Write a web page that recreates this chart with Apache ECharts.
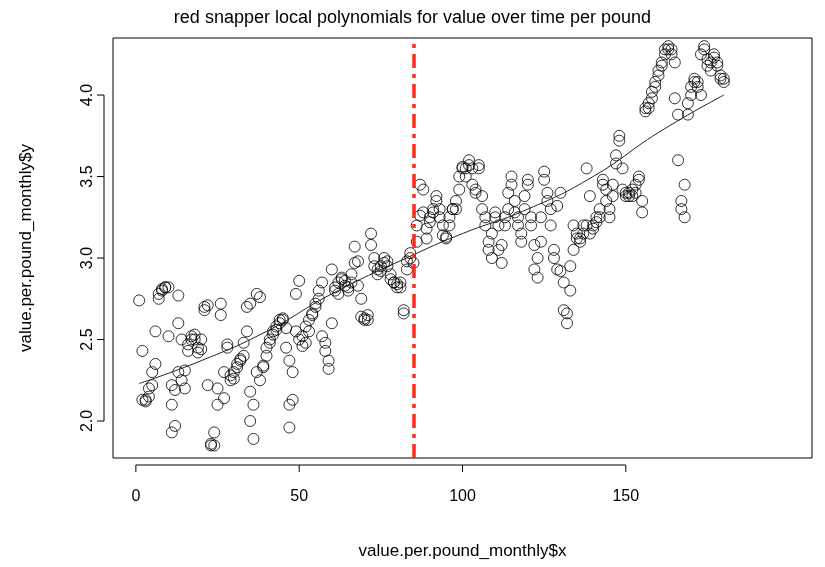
<!DOCTYPE html>
<html>
<head>
<meta charset="utf-8">
<script src="https://cdn.jsdelivr.net/npm/echarts@6/dist/echarts.min.js"></script>
<style>html,body{margin:0;padding:0;background:#fff}#chart{width:825px;height:567px}</style>
</head>
<body>
<div id="chart"></div>
<script>
// monthly value per pound (x = month index)
const pointX = [1,2,2,3,3,4,4,5,5,6,6,7,7,8,8,9,9,10,10,11,11,
  11,12,12,13,13,13,14,14,15,15,16,16,17,17,18,18,19,19,20,20,
  21,21,22,22,23,23,24,24,25,25,26,26,27,27,28,28,29,29,30,30,31,31,32,32,33,33,34,34,35,
  35,35,36,36,37,37,38,38,39,39,40,40,41,41,42,42,43,43,44,44,45,45,
  46,46,47,47,47,48,48,49,49,50,50,51,51,52,52,53,53,54,54,55,55,56,56,
  57,57,58,58,59,59,60,60,61,61,62,62,63,63,64,64,65,65,
  66,66,67,67,68,68,69,69,70,70,71,71,72,72,73,73,74,74,75,75,
  76,76,77,77,78,78,79,79,80,80,81,81,82,82,83,83,84,84,85,
  86,86,87,87,88,88,89,89,90,90,91,91,92,92,93,93,94,94,95,95,
  96,96,97,97,98,98,99,99,100,100,101,101,102,102,103,103,104,104,105,105,
  106,106,107,107,108,108,109,109,110,110,111,111,112,112,113,113,114,114,115,115,
  116,116,117,117,118,118,119,119,120,120,121,121,122,122,123,123,124,124,125,125,
  126,126,127,127,128,128,129,129,130,130,131,131,132,132,133,133,134,134,135,135,
  136,136,137,137,138,138,139,139,140,140,141,141,142,142,143,143,144,144,145,145,
  146,146,147,147,148,148,149,149,150,150,151,151,152,152,153,153,154,154,155,155,
  156,156,157,157,158,158,159,159,160,160,161,161,162,162,163,163,164,164,165,165,
  166,166,167,167,168,168,169,169,170,170,171,171,172,172,173,173,174,174,175,175,
  176,176,177,177,178,178,179,179,180,180];
const pointY = [2.74,2.43,2.13,2.12,2.13,2.15,2.2,2.22,2.3,2.35,2.55,2.75,2.78,2.8,2.81,2.82,2.82,2.82,2.52,2.22,2.1,
  1.93,1.97,2.19,2.3,2.6,2.77,2.5,2.25,2.2,2.31,2.43,2.47,2.5,2.52,2.53,2.5,2.45,2.42,2.5,2.44,
  2.7,2.68,2.71,2.22,1.86,1.85,1.85,1.93,2.1,2.2,2.65,2.72,2.3,2.14,2.47,2.45,2.28,2.25,2.26,2.3,2.33,2.35,2.37,2.38,2.4,2.48,2.55,2.7,2.72,
  2.18,2.0,1.89,2.1,2.3,2.78,2.76,2.25,2.33,2.34,2.4,2.45,2.48,2.5,2.53,2.55,2.56,2.58,2.6,2.62,2.63,2.62,
  2.57,2.45,2.37,2.1,1.96,2.13,2.3,2.55,2.78,2.86,2.5,2.46,2.52,2.58,2.48,2.55,2.62,2.65,2.66,2.7,2.72,2.75,2.8,
  2.85,2.52,2.48,2.43,2.37,2.32,2.6,2.93,2.82,2.8,2.78,2.85,2.87,2.88,2.86,2.83,2.82,2.8,
  2.85,2.9,2.97,3.07,2.98,2.83,2.75,2.64,2.62,2.63,2.62,2.65,3.15,3.08,3.0,2.95,2.93,2.9,2.92,2.95,
  2.97,3.0,2.98,2.95,2.9,2.87,2.85,2.85,2.84,2.82,2.82,2.85,2.68,2.66,2.93,2.98,3.03,3.0,2.97,
  3.2,3.1,3.26,3.45,3.42,3.28,3.12,3.18,3.22,3.25,3.28,3.3,3.35,3.38,3.3,3.25,3.2,3.14,3.12,3.13,
  3.2,3.25,3.3,3.3,3.35,3.3,3.42,3.5,3.55,3.56,3.55,3.5,3.6,3.57,3.55,3.45,3.4,3.42,3.55,3.57,
  3.38,3.3,3.25,3.2,3.1,3.05,3.0,3.15,3.25,3.28,3.2,3.05,2.97,3.08,3.2,3.25,3.3,3.4,3.45,3.5,
  3.35,3.28,3.25,3.2,3.1,3.15,3.3,3.38,3.45,3.48,3.25,3.2,3.08,2.93,2.88,3.0,3.1,3.25,3.48,3.53,
  3.4,3.35,3.3,3.2,3.05,3.0,2.93,3.32,3.4,2.92,2.85,2.68,2.6,2.66,2.8,2.95,3.05,3.2,3.15,3.12,
  3.1,3.12,3.15,3.2,3.2,3.55,3.38,3.15,3.18,3.2,3.22,3.25,3.25,3.3,3.45,3.48,3.42,3.35,3.3,3.25,
  3.38,3.45,3.58,3.63,3.72,3.75,3.55,3.42,3.4,3.38,3.38,3.4,3.42,3.38,3.4,3.45,3.48,3.5,3.35,3.28,
  3.9,3.92,3.95,3.92,3.98,4.02,4.05,4.08,4.12,4.15,4.18,4.2,4.25,4.28,4.3,4.28,4.25,4.28,4.2,3.98,
  3.88,3.6,3.35,3.3,3.25,3.45,3.88,3.95,4.0,4.05,4.1,4.08,4.08,4.05,4.0,4.25,4.3,4.28,4.22,4.18,
  4.15,4.2,4.25,4.23,4.18,4.2,4.12,4.1,4.1,4.08];
// local polynomial fit
const fitX = [1,20,40,60,85,100,120,140,160,180];
const fitY = [2.23,2.37,2.55,2.78,3.02,3.15,3.3,3.5,3.77,4.0];
const xTicks = [0,50,100,150];
const yTicks = [2.0,2.5,3.0,3.5,4.0];
const breakX = 85;

const chart = echarts.init(document.getElementById('chart'));
const font = 'Liberation Sans, Arial, sans-serif';
chart.setOption({
  animation: false,
  title: {text: 'red snapper local polynomials for value over time per pound', left: 'center', top: 4,
    textStyle: {fontFamily: font, fontSize: 18, fontWeight: 'normal', color: '#000'}},
  grid: {left: 113, right: 13, top: 38, bottom: 109, show: true, borderColor: '#000', borderWidth: 1},
  xAxis: {type: 'value', min: -7, max: 207, splitLine: {show: false},
    axisLine: {show: false}, axisTick: {show: false},
    axisLabel: {fontFamily: font, fontSize: 16, color: '#000', margin: 31, customValues: xTicks, formatter: v => String(v)},
    name: 'value.per.pound_monthly$x', nameLocation: 'middle', nameGap: 85,
    nameTextStyle: {fontFamily: font, fontSize: 17, color: '#000'}},
  yAxis: {type: 'value', min: 1.773, max: 4.35, splitLine: {show: false},
    axisLine: {show: false}, axisTick: {show: false},
    axisLabel: {fontFamily: font, fontSize: 16, color: '#000', rotate: 90, margin: 17, customValues: yTicks,
      formatter: v => v.toFixed(1)},
    name: 'value.per.pound_monthly$y', nameLocation: 'middle', nameGap: 78, nameRotate: 90,
    nameTextStyle: {fontFamily: font, fontSize: 17, color: '#000'}},
  series: [
    {type: 'scatter', data: pointX.map((x, i) => [x, pointY[i]]), symbol: 'circle', symbolSize: 11,
      itemStyle: {color: 'rgba(255,255,255,0)', borderColor: '#000', borderWidth: 1},
      markLine: {symbol: 'none', silent: true, label: {show: false},
        lineStyle: {color: '#ff2a1a', width: 3.5, type: [14, 6, 4, 6]}, data: [{xAxis: breakX}]}},
    {type: 'line', data: fitX.map((x, i) => [x, fitY[i]]), smooth: true, showSymbol: false,
      lineStyle: {color: '#222', width: 1}}
  ]
});

// R-style axes: line spanning only the tick range, ticks outside the box
const g = [];
const px = v => chart.convertToPixel({gridIndex: 0}, [v, 3])[0];
const py = v => chart.convertToPixel({gridIndex: 0}, [0, v])[1];
const stroke = {stroke: '#000', lineWidth: 1};
g.push({type: 'line', shape: {x1: px(xTicks[0]), y1: 465, x2: px(xTicks[xTicks.length - 1]), y2: 465}, style: stroke});
xTicks.forEach(v => g.push({type: 'line', shape: {x1: px(v), y1: 465, x2: px(v), y2: 472}, style: stroke}));
g.push({type: 'line', shape: {x1: 104, y1: py(yTicks[0]), x2: 104, y2: py(yTicks[yTicks.length - 1])}, style: stroke});
yTicks.forEach(v => g.push({type: 'line', shape: {x1: 97, y1: py(v), x2: 104, y2: py(v)}, style: stroke}));
chart.setOption({graphic: g});
</script>
</body>
</html>
